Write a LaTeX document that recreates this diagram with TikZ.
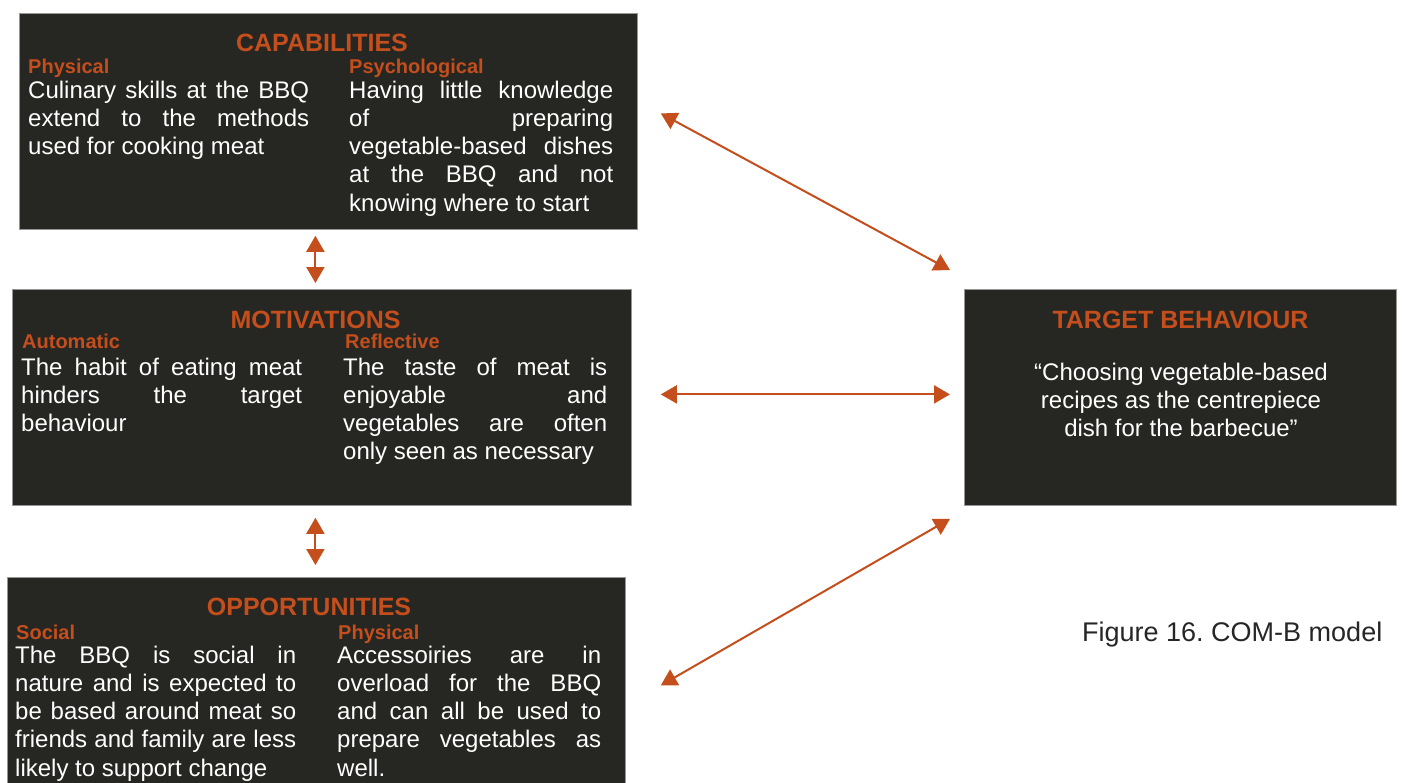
\documentclass[tikz,border=0pt]{standalone}
\usepackage{fontspec}
\setmainfont{Liberation Sans}
\usetikzlibrary{arrows.meta,calc}
\definecolor{boxbg}{RGB}{38,38,34}
\definecolor{boxline}{RGB}{150,150,150}
\definecolor{accent}{RGB}{196,78,28}
\newcommand\jl[1]{\hbox to \hsize{\spaceskip=0.278em plus 1fil\relax #1}}
\newcommand\lastl[1]{\hbox{#1}}
\newcommand\cl[1]{\hbox to \hsize{\hfil #1\hfil}}
\frenchspacing
\tikzset{
  box/.style={draw=boxline, line width=0.8pt, fill=boxbg, anchor=north west, inner sep=0pt},
  ttl/.style={text=accent, font=\bfseries\fontsize{25}{30}\selectfont, inner sep=0pt, anchor=base},
  sub/.style={text=accent, font=\bfseries\fontsize{20}{24}\selectfont, inner sep=0pt, anchor=base west},
  body/.style={text=white, font=\fontsize{24}{28.3}\selectfont, inner sep=0pt, anchor=base west},
  cbody/.style={text=white, font=\fontsize{24}{28}\selectfont, inner sep=0pt, anchor=base},
  conn/.style={draw=accent, line width=2pt, {Triangle[length=16pt,width=18pt]}-{Triangle[length=16pt,width=18pt]}},
  capt/.style={text=black!85, font=\fontsize{27}{32}\selectfont, inner sep=0pt, anchor=base west}
}
\begin{document}
\begin{tikzpicture}[x=1pt,y=-1pt]
\path[fill=white,use as bounding box] (0,0) rectangle (1402,782);

% boxes
\node[box, minimum width=618pt, minimum height=216pt] (cap) at (19,13) {};
\node[box, minimum width=619pt, minimum height=216pt] (mot) at (12,289) {};
\node[box, minimum width=618pt, minimum height=208pt] (opp) at (7,577) {};
\node[box, minimum width=432pt, minimum height=216pt] (tb) at (964,289) {};

% capabilities
\node[ttl] (capT) at (322,51) {CAPABILITIES};
\node[sub] (capSL) at (28,73) {Physical};
\node[sub] (capSR) at (349,73) {Psychological};
\node[body] (capL) at (28,98) {\vtop{\hsize=281pt
  \jl{Culinary skills at the BBQ}
  \jl{extend to the methods}
  \lastl{used for cooking meat}}};
\node[body] (capR) at (349,98) {\vtop{\hsize=264pt
  \jl{Having little knowledge}
  \jl{of preparing}
  \jl{vegetable-based dishes}
  \jl{at the BBQ and not}
  \lastl{knowing where to start}}};

% motivations
\node[ttl] (motT) at (315.5,328) {MOTIVATIONS};
\node[sub] (motSL) at (22,348) {Automatic};
\node[sub] (motSR) at (345,348) {Reflective};
\node[body] (motL) at (21,375) {\vtop{\hsize=281pt
  \jl{The habit of eating meat}
  \jl{hinders the target}
  \lastl{behaviour}}};
\node[body] (motR) at (343,375) {\vtop{\hsize=264pt
  \jl{The taste of meat is}
  \jl{enjoyable and}
  \jl{vegetables are often}
  \lastl{only seen as necessary}}};

% opportunities
\node[ttl] (oppT) at (309,615) {OPPORTUNITIES};
\node[sub] (oppSL) at (16,639) {Social};
\node[sub] (oppSR) at (338,639) {Physical};
\node[body] (oppL) at (15,663) {\vtop{\hsize=281pt
  \jl{The BBQ is social in}
  \jl{nature and is expected to}
  \jl{be based around meat so}
  \jl{friends and family are less}
  \lastl{likely to support change}}};
\node[body] (oppR) at (337,663) {\vtop{\hsize=264pt
  \jl{Accessoiries are in}
  \jl{overload for the BBQ}
  \jl{and can all be used to}
  \jl{prepare vegetables as}
  \lastl{well.}}};

% target behaviour
\node[ttl] (tbT) at (1180.5,328) {TARGET BEHAVIOUR};
\node[cbody] (tbB) at (1181,380) {\vtop{\hsize=420pt
  \cl{“Choosing vegetable-based}
  \cl{recipes as the centrepiece}
  \cl{dish for the barbecue”}}};

% caption
\node[capt] (cap16) at (1082,641) {Figure 16. COM-B model};

% connectors
\draw[conn] ([shift={(23,-8)}]cap.east) -- ([shift={(-14,-19)}]tb.north west);
\draw[conn] ([shift={(29,-3)}]mot.east) -- ([shift={(-14,-3)}]tb.west);
\draw[conn] ([shift={(35,4)}]opp.east) -- ([shift={(-14,13)}]tb.south west);
\draw[conn] ([shift={(-13,6)}]cap.south) -- ([shift={(-6.5,-6)}]mot.north);
\draw[conn] ([shift={(-6.5,12)}]mot.south) -- ([shift={(-1,-12)}]opp.north);
\end{tikzpicture}
\end{document}
